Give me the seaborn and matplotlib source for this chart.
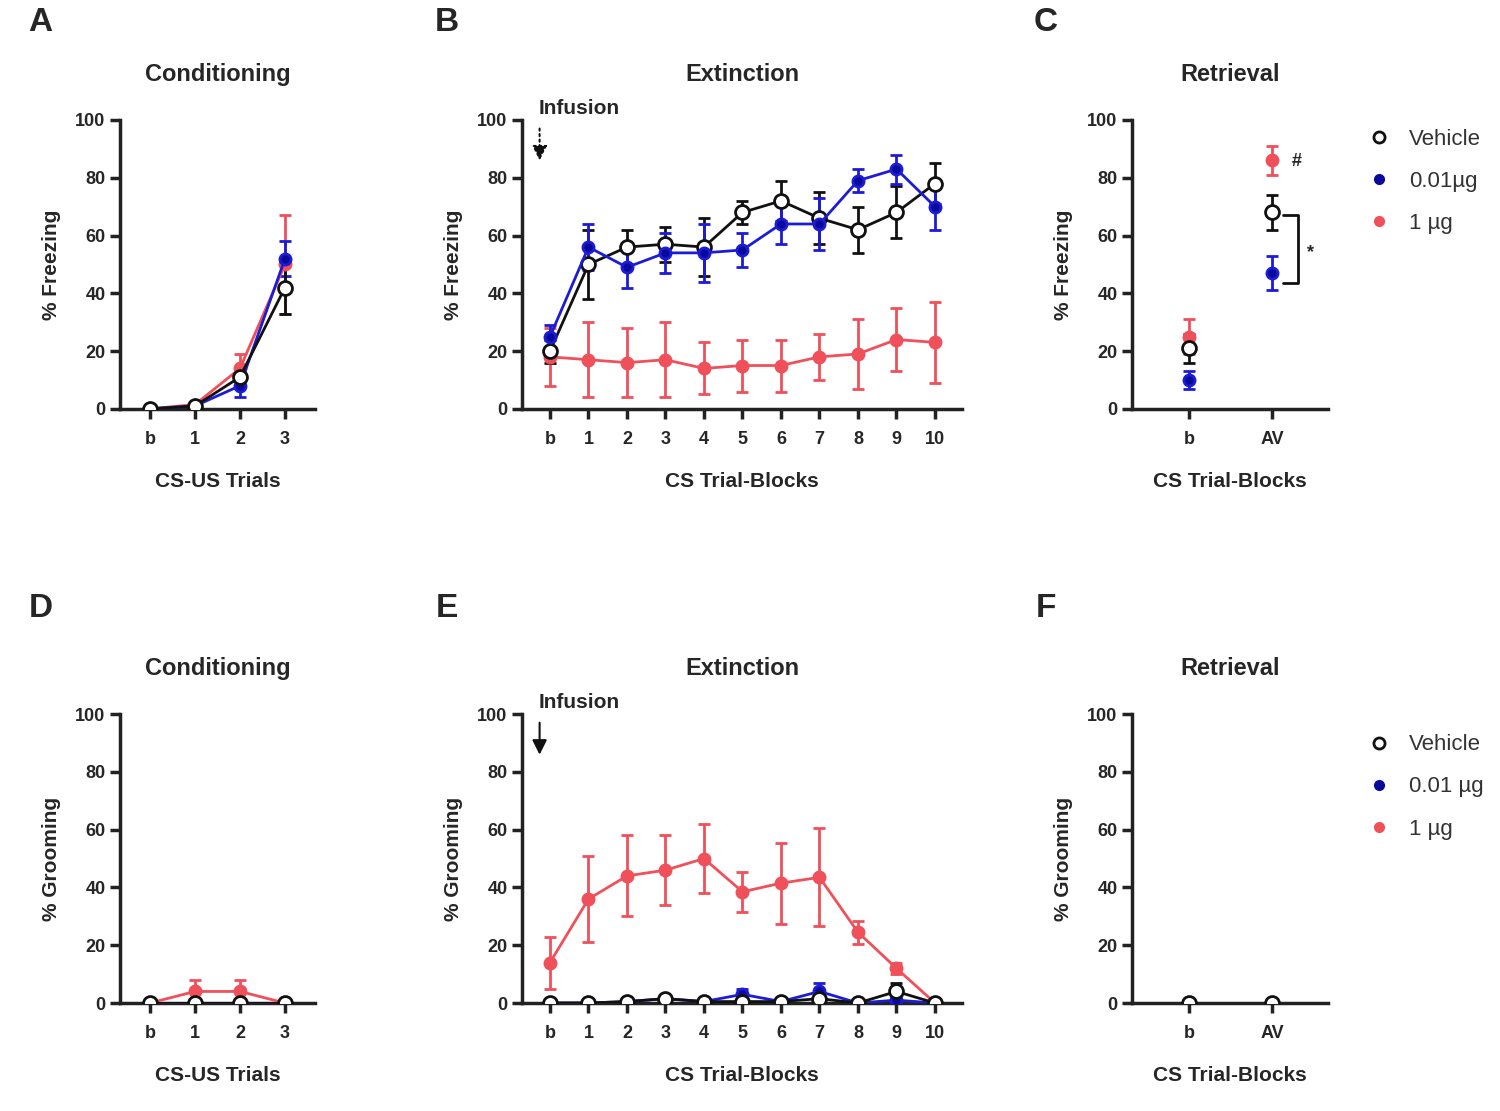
import numpy as np
import pandas as pd
import matplotlib.pyplot as plt
import seaborn as sns
from matplotlib.lines import Line2D

sns.set_style('ticks')
plt.rcParams['font.family'] = ['Liberation Sans', 'DejaVu Sans']
plt.rcParams['font.weight'] = 'bold'
plt.rcParams['axes.labelweight'] = 'bold'
plt.rcParams['axes.titleweight'] = 'bold'

# categories
cond_x = ['b', '1', '2', '3']
ext_x = ['b', '1', '2', '3', '4', '5', '6', '7', '8', '9', '10']
ret_x = ['b', 'AV']

# freezing (mean, sem)
cond_frz_veh = [0, 1, 11, 42]
cond_frz_veh_e = [0, 1, 3, 9]
cond_frz_low = [0, 1, 8, 52]
cond_frz_low_e = [0, 1, 4, 6]
cond_frz_high = [0, 1.5, 14, 50]
cond_frz_high_e = [0, 1, 5, 17]

ext_frz_veh = [20, 50, 56, 57, 56, 68, 72, 66, 62, 68, 78]
ext_frz_veh_e = [4, 12, 6, 6, 10, 4, 7, 9, 8, 9, 7]
ext_frz_low = [25, 56, 49, 54, 54, 55, 64, 64, 79, 83, 70]
ext_frz_low_e = [4, 8, 7, 7, 10, 6, 7, 9, 4, 5, 8]
ext_frz_high = [18, 17, 16, 17, 14, 15, 15, 18, 19, 24, 23]
ext_frz_high_e = [10, 13, 12, 13, 9, 9, 9, 8, 12, 11, 14]

ret_frz_veh = [21, 68]
ret_frz_veh_e = [5, 6]
ret_frz_low = [10, 47]
ret_frz_low_e = [3, 6]
ret_frz_high = [25, 86]
ret_frz_high_e = [6, 5]

# grooming (mean, sem)
cond_grm_veh = [0, 0, 0, 0]
cond_grm_veh_e = [0, 0, 0, 0]
cond_grm_low = [0, 0, 0, 0]
cond_grm_low_e = [0, 0, 0, 0]
cond_grm_high = [0, 4, 4, 0]
cond_grm_high_e = [0, 4, 4, 0]

ext_grm_veh = [0, 0, 0.5, 1.5, 0.5, 0.5, 0.5, 1.5, 0, 4, 0]
ext_grm_veh_e = [0, 0, 0.5, 1, 0.5, 0.5, 0.5, 1, 0, 3, 0]
ext_grm_low = [0, 0, 0.5, 1.5, 0.5, 3, 0.5, 4, 0, 1, 0]
ext_grm_low_e = [0, 0, 0.5, 1, 0.5, 2, 0.5, 3, 0, 1, 0]
ext_grm_high = [14, 36, 44, 46, 50, 38.5, 41.5, 43.5, 24.5, 12, 0]
ext_grm_high_e = [9, 15, 14, 12, 12, 7, 14, 17, 4, 2, 0]

ret_grm_veh = [0, 0]
ret_grm_veh_e = [0, 0]
ret_grm_low = [0, 0]
ret_grm_low_e = [0, 0]
ret_grm_high = [0, 0]
ret_grm_high_e = [0, 0]

BLUE = '#1c1cd6'
BLUE_DK = '#0a0a9a'
RED = '#f0505a'
BLACK = '#111111'


def draw(ax, cats, series, connect=True):
    pos = np.arange(len(cats))
    for vals, errs, col, face, ms in series:
        vals = np.array(vals, float)
        errs = np.array(errs, float)
        m = errs > 0
        if m.any():
            ax.errorbar(pos[m], vals[m], yerr=errs[m], fmt='none', ecolor=col,
                        elinewidth=2, capsize=4, capthick=2, zorder=3)
        sns.lineplot(x=pos, y=vals, ax=ax, color=col, marker='o', markersize=ms,
                     markerfacecolor=face, markeredgecolor=col if face != 'white' else BLACK,
                     markeredgewidth=2, linewidth=2 if connect else 0, zorder=4)
    ax.set_xticks(pos)
    ax.set_xticklabels(cats)
    ax.set_ylim(0, 100)
    ax.set_yticks([0, 20, 40, 60, 80, 100])
    sns.despine(ax=ax)
    for s in ('left', 'bottom'):
        ax.spines[s].set_linewidth(2.5)
        ax.spines[s].set_color('#222222')
    ax.tick_params(axis='both', width=2.5, length=7, labelsize=13, color='#222222')
    ax.tick_params(axis='x', pad=9)


fig = plt.figure(figsize=(15, 11.11), dpi=100)

row_b = [0.632, 0.0972]
h = 0.26
cols = [(0.08, 0.13, -0.667, 3.667), (0.348, 0.2933, -0.727, 10.7), (0.7547, 0.1307, -0.687, 1.675)]

panels = [
    ('A', 'Conditioning', cond_x, 'CS-US Trials', '% Freezing',
     [(cond_frz_high, cond_frz_high_e, RED, RED, 8), (cond_frz_low, cond_frz_low_e, BLUE, BLUE_DK, 8),
      (cond_frz_veh, cond_frz_veh_e, BLACK, 'white', 10)]),
    ('B', 'Extinction', ext_x, 'CS Trial-Blocks', '% Freezing',
     [(ext_frz_high, ext_frz_high_e, RED, RED, 8), (ext_frz_veh, ext_frz_veh_e, BLACK, 'white', 10),
      (ext_frz_low, ext_frz_low_e, BLUE, BLUE_DK, 8)]),
    ('C', 'Retrieval', ret_x, 'CS Trial-Blocks', '% Freezing',
     [(ret_frz_high, ret_frz_high_e, RED, RED, 8), (ret_frz_low, ret_frz_low_e, BLUE, BLUE_DK, 8),
      (ret_frz_veh, ret_frz_veh_e, BLACK, 'white', 10)]),
    ('D', 'Conditioning', cond_x, 'CS-US Trials', '% Grooming',
     [(cond_grm_high, cond_grm_high_e, RED, RED, 8), (cond_grm_low, cond_grm_low_e, BLUE, BLUE_DK, 8),
      (cond_grm_veh, cond_grm_veh_e, BLACK, 'white', 10)]),
    ('E', 'Extinction', ext_x, 'CS Trial-Blocks', '% Grooming',
     [(ext_grm_high, ext_grm_high_e, RED, RED, 8), (ext_grm_low, ext_grm_low_e, BLUE, BLUE_DK, 8),
      (ext_grm_veh, ext_grm_veh_e, BLACK, 'white', 10)]),
    ('F', 'Retrieval', ret_x, 'CS Trial-Blocks', '% Grooming',
     [(ret_grm_high, ret_grm_high_e, RED, RED, 8), (ret_grm_low, ret_grm_low_e, BLUE, BLUE_DK, 8),
      (ret_grm_veh, ret_grm_veh_e, BLACK, 'white', 10)]),
]

axes = []
for i, (letter, title, cats, xlab, ylab, series) in enumerate(panels):
    r, c = divmod(i, 3)
    left, w, x0, x1 = cols[c]
    ax = fig.add_axes([left, row_b[r], w, h])
    draw(ax, cats, series, connect=(c != 2))
    ax.set_xlim(x0, x1)
    ax.set_title(title, fontsize=17, pad=28)
    ax.set_xlabel(xlab, fontsize=15, labelpad=17)
    ax.set_ylabel(ylab, fontsize=15, labelpad=10)
    fx = [0.027, 0.298, 0.697][c]
    fy = [0.98, 0.452][r]
    fig.text(fx, fy, letter, fontsize=24, fontweight='bold', va='center', ha='center')
    axes.append(ax)

# infusion arrows
for ax, ls in ((axes[1], ':'), (axes[4], '-')):
    ax.text(-0.3, 104, 'Infusion', fontsize=15, fontweight='bold', ha='left', va='center', clip_on=False)
    ax.annotate('', xy=(-0.27, 85), xytext=(-0.27, 98), annotation_clip=False,
                arrowprops=dict(arrowstyle='-|>', color=BLACK, lw=1.5, linestyle=ls, mutation_scale=22))

# significance marks in retrieval
axc = axes[2]
axc.plot([1.13, 1.31, 1.31, 1.13], [67, 67, 43.5, 43.5], color=BLACK, lw=2, clip_on=False)
axc.text(1.46, 54, '*', fontsize=13, ha='center', va='center')
axc.text(1.30, 85.5, '#', fontsize=13, ha='center', va='center')

# legends
for ax, lbls, ytop in ((axes[2], ['Vehicle', '0.01µg', '1 µg'], 0.902),
                       (axes[5], ['Vehicle', '0.01 µg', '1 µg'], 0.357)):
    handles = [Line2D([], [], ls='none', marker='o', markersize=8, markerfacecolor='white',
                      markeredgecolor=BLACK, markeredgewidth=2),
               Line2D([], [], ls='none', marker='o', markersize=7, color=BLUE_DK),
               Line2D([], [], ls='none', marker='o', markersize=7, color=RED)]
    leg = ax.legend(handles, lbls, loc='upper left', bbox_to_anchor=(0.895, ytop),
                    bbox_transform=fig.transFigure, frameon=False, fontsize=16,
                    handlelength=1.5, handletextpad=0.6, labelspacing=0.95)
    for t in leg.get_texts():
        t.set_fontweight('normal')
        t.set_color('#333333')

plt.savefig('out.png', dpi=100)
